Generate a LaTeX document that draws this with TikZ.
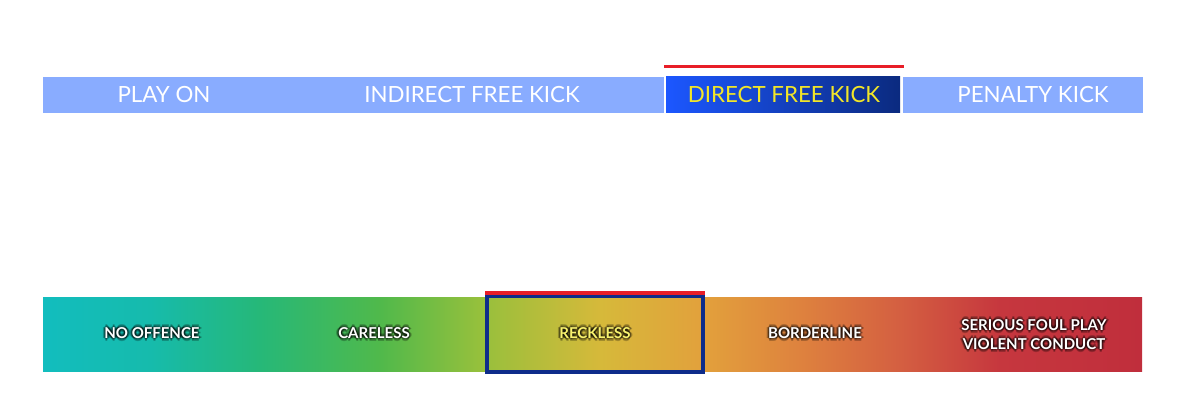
\documentclass[tikz,border=0pt]{standalone}
\usepackage{fontspec}
\setmainfont{Lato}
\usetikzlibrary{calc}
\definecolor{lightbar}{RGB}{137,172,255}
\definecolor{dfkL}{RGB}{28,87,255}
\definecolor{dfkR}{RGB}{11,42,127}
\definecolor{dfktext}{RGB}{242,230,40}
\definecolor{redline}{RGB}{232,30,40}
\definecolor{boxblue}{RGB}{14,44,138}
\definecolor{recktext}{RGB}{248,242,110}
\definecolor{g0}{RGB}{18,189,190}
\definecolor{g1}{RGB}{22,187,172}
\definecolor{g2}{RGB}{38,184,120}
\definecolor{g3}{RGB}{80,185,75}
\definecolor{g4}{RGB}{150,192,60}
\definecolor{g5}{RGB}{214,185,58}
\definecolor{g6}{RGB}{226,160,60}
\definecolor{g7}{RGB}{222,130,62}
\definecolor{g8}{RGB}{212,95,65}
\definecolor{g9}{RGB}{198,55,62}
\definecolor{g10}{RGB}{192,46,60}
\pgfdeclarehorizontalshading{severity}{100bp}{color(0bp)=(g0); color(25bp)=(g0); color(29.87bp)=(g1); color(34.87bp)=(g2); color(40.33bp)=(g3); color(44.88bp)=(g4); color(50.34bp)=(g5); color(55.12bp)=(g6); color(59.44bp)=(g7); color(63.99bp)=(g8); color(68.54bp)=(g9); color(75bp)=(g10); color(100bp)=(g10)}
\tikzset{
  toplabel/.style={font=\fontsize{22.3}{24}\selectfont, text=white, inner sep=0pt},
  botlabel/.style={font=\bfseries\fontsize{15}{19}\selectfont, text=white, inner sep=0pt, align=center},
  glow/.style={font=\bfseries\fontsize{15}{19}\selectfont, text=black, inner sep=0pt, align=center, text opacity=0.24},
}
\newcommand\glowlabel[3]{% x, y, text
  \foreach \dx/\dy in {1.6/0,-1.6/0,0/1.6,0/-1.6,1.1/1.1,-1.1/1.1,1.1/-1.1,-1.1/-1.1,2.6/0,-2.6/0,0/2.6,0/-2.6}{
    \node[glow] at ($(#1,#2)+(\dx,\dy)$) {#3};
  }
}
\begin{document}
\begin{tikzpicture}[x=1pt,y=-1pt]
\useasboundingbox (0,0) rectangle (1190,417);
% top bar
\fill[lightbar] (43,77) rectangle (664,113);
\shade[left color=dfkL, right color=dfkR] (666,77) rectangle (900,113);
\fill[lightbar] (903,77) rectangle (1143,113);
\fill[redline] (664,65) rectangle (904,68.5);
\node[toplabel] (playon) at (164,95) {PLAY ON};
\node[toplabel] (ifk) at (472,95) {INDIRECT FREE KICK};
\node[toplabel, text=dfktext] (dfk) at (784,95) {DIRECT FREE KICK};
\node[toplabel] (pk) at (1033,95) {PENALTY KICK};
% bottom bar
\shade[shading=severity] (43,297) rectangle (1142,371);
\fill[redline] (485,291) rectangle (705,295);
\draw[boxblue, line width=3.5pt] (487,296.5) rectangle (703,372);
\glowlabel{152}{333}{NO OFFENCE}
\node[botlabel] (nooff) at (152,333) {NO OFFENCE};
\glowlabel{374}{333}{CARELESS}
\node[botlabel] (careless) at (374,333) {CARELESS};
\glowlabel{595}{333}{RECKLESS}
\node[botlabel, text=recktext] (reckless) at (595,333) {RECKLESS};
\glowlabel{815}{333}{BORDERLINE}
\node[botlabel] (border) at (815,333) {BORDERLINE};
\glowlabel{1034}{334.5}{SERIOUS FOUL PLAY\\VIOLENT CONDUCT}
\node[botlabel] (sfp) at (1034,334.5) {SERIOUS FOUL PLAY\\VIOLENT CONDUCT};
\end{tikzpicture}
\end{document}
